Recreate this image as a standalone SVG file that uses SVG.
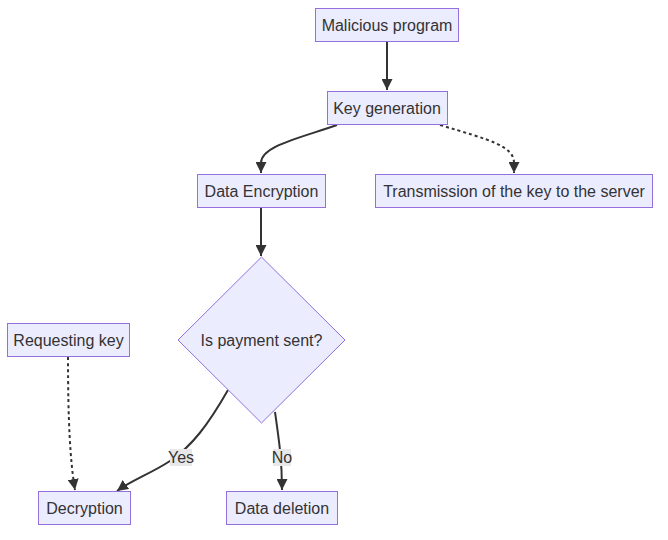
<svg xmlns="http://www.w3.org/2000/svg" width="668" height="540" viewBox="0 0 668 540">
<defs>
<marker id="arrow" viewBox="0 0 10 10" refX="10" refY="5" markerWidth="11" markerHeight="11" markerUnits="userSpaceOnUse" orient="auto">
<path d="M0,0 L10,5 L0,10 z" fill="#333333"/>
</marker>
<style>
.node rect, .node polygon { fill:#ECECFF; stroke:#9370DB; stroke-width:1; }
.node text { font-family:"Liberation Sans", Arial, sans-serif; font-size:16px; fill:#333333; text-anchor:middle; dominant-baseline:central; }
.edge { fill:none; stroke:#333333; stroke-width:2; marker-end:url(#arrow); }
.dotted { stroke-dasharray:3,3; }
.lbl rect { fill:#e8e8e8; }
.lbl text { font-family:"Liberation Sans", Arial, sans-serif; font-size:16px; fill:#333333; text-anchor:middle; dominant-baseline:central; }
</style>
</defs>
<rect width="668" height="540" fill="#ffffff"/>
<g id="connectors">
<path class="edge" d="M387,41 L387,90"/>
<path class="edge" d="M337,125 C300,138 261,146 261,163 L261,173"/>
<path class="edge dotted" d="M440,125 C490,140 514,146 514,163 L514,173"/>
<path class="edge" d="M261,208 L261,256"/>
<path class="edge" d="M228,390 C208,425 192,446 170,461 C150,474 132,480 117,491"/>
<path class="edge" d="M275,412 C279,440 282,460 282,490"/>
<path class="edge dotted" d="M68,357 C68,420 70,460 75,490"/>
<g class="lbl"><rect x="170" y="449" width="22" height="17"/><text x="181" y="457.5">Yes</text></g>
<g class="lbl"><rect x="273" y="449" width="18" height="17"/><text x="282" y="457.5">No</text></g>
</g>
<g id="malicious" class="node"><rect x="315.5" y="8.5" width="143" height="33"/><text x="387" y="25">Malicious program</text></g>
<g id="keygen" class="node"><rect x="327.5" y="91.5" width="120" height="33"/><text x="387" y="108">Key generation</text></g>
<g id="dataenc" class="node"><rect x="197.5" y="174.5" width="128" height="33"/><text x="261.5" y="191">Data Encryption</text></g>
<g id="transmission" class="node"><rect x="375.5" y="174.5" width="277" height="33"/><text x="514" y="191">Transmission of the key to the server</text></g>
<g id="payment" class="node"><polygon points="261.5,257 345,340 261.5,423 178,340"/><text x="261.5" y="340">Is payment sent?</text></g>
<g id="requesting" class="node"><rect x="7.5" y="323.5" width="122" height="33"/><text x="68.5" y="340">Requesting key</text></g>
<g id="decryption" class="node"><rect x="38.5" y="491.5" width="92" height="33"/><text x="84.5" y="508">Decryption</text></g>
<g id="deletion" class="node"><rect x="226.5" y="491.5" width="111" height="33"/><text x="282" y="508">Data deletion</text></g>
</svg>
